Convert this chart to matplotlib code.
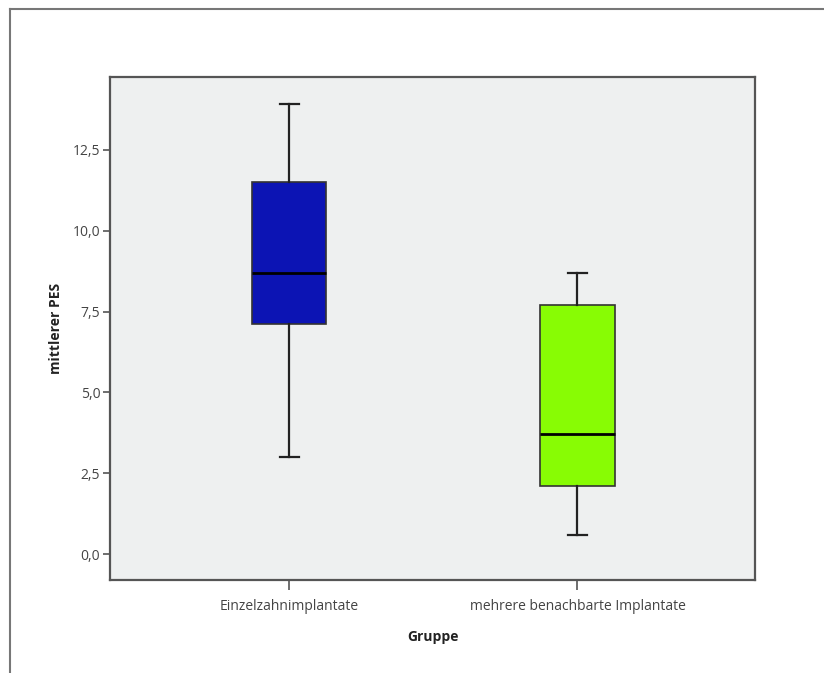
#!/usr/bin/env python
import matplotlib
matplotlib.use("Agg")
import matplotlib.pyplot as plt
from matplotlib.lines import Line2D

# Box statistics
groups = ["Einzelzahnimplantate", "mehrere benachbarte Implantate"]
whisker_low = [3.0, 0.6]
q1 = [7.1, 2.1]
median = [8.7, 3.7]
q3 = [11.5, 7.7]
whisker_high = [13.9, 8.7]
box_colors = ["#0c14b4", "#88fc04"]

y_ticks = [0.0, 2.5, 5.0, 7.5, 10.0, 12.5]
y_tick_labels = ["0,0", "2,5", "5,0", "7,5", "10,0", "12,5"]

plt.rcParams["font.family"] = ["Open Sans", "DejaVu Sans"]

fig = plt.figure(figsize=(8.24, 6.73), dpi=100)
ax = fig.add_axes([110 / 824, 1 - 580 / 673, 645 / 824, 503 / 673])
ax.set_facecolor("#eef0f0")

stats = []
for i, g in enumerate(groups):
    stats.append({"label": g, "whislo": whisker_low[i], "q1": q1[i],
                  "med": median[i], "q3": q3[i], "whishi": whisker_high[i],
                  "fliers": []})

bp = ax.bxp(stats, positions=[1, 2], widths=0.257, patch_artist=True,
            showfliers=False,
            boxprops=dict(edgecolor="#333333", linewidth=1.2),
            medianprops=dict(color="black", linewidth=2),
            whiskerprops=dict(color="#222222", linewidth=1.6),
            capprops=dict(color="#222222", linewidth=1.6),
            capwidths=0.066)
for patch, col in zip(bp["boxes"], box_colors):
    patch.set_facecolor(col)

ax.set_xlim(0.378, 2.616)
ax.set_ylim(-0.8, 14.75)
ax.set_yticks(y_ticks)
ax.set_yticklabels(y_tick_labels)
ax.set_xticks([1, 2])
ax.set_xticklabels(groups)

for sp in ax.spines.values():
    sp.set_color("#555555")
    sp.set_linewidth(1.6)

ax.tick_params(axis="y", length=5, width=1.2, color="#555555",
               labelsize=10, labelcolor="#444444", pad=2)
ax.tick_params(axis="x", length=7, width=1.2, color="#555555",
               labelsize=10, labelcolor="#444444", pad=7)

ax.set_ylabel("mittlerer PES", fontsize=10, fontweight="bold",
              color="#222222", labelpad=7)
ax.set_xlabel("Gruppe", fontsize=10, fontweight="bold",
              color="#222222", labelpad=11)

# outer frame of the original figure
fig.add_artist(Line2D([10 / 824, 1.0], [1 - 9 / 673, 1 - 9 / 673],
                      transform=fig.transFigure, color="#777777", linewidth=1.5))
fig.add_artist(Line2D([10 / 824, 10 / 824], [0.0, 1 - 9 / 673],
                      transform=fig.transFigure, color="#777777", linewidth=1.5))

fig.savefig("out.png", dpi=100)
